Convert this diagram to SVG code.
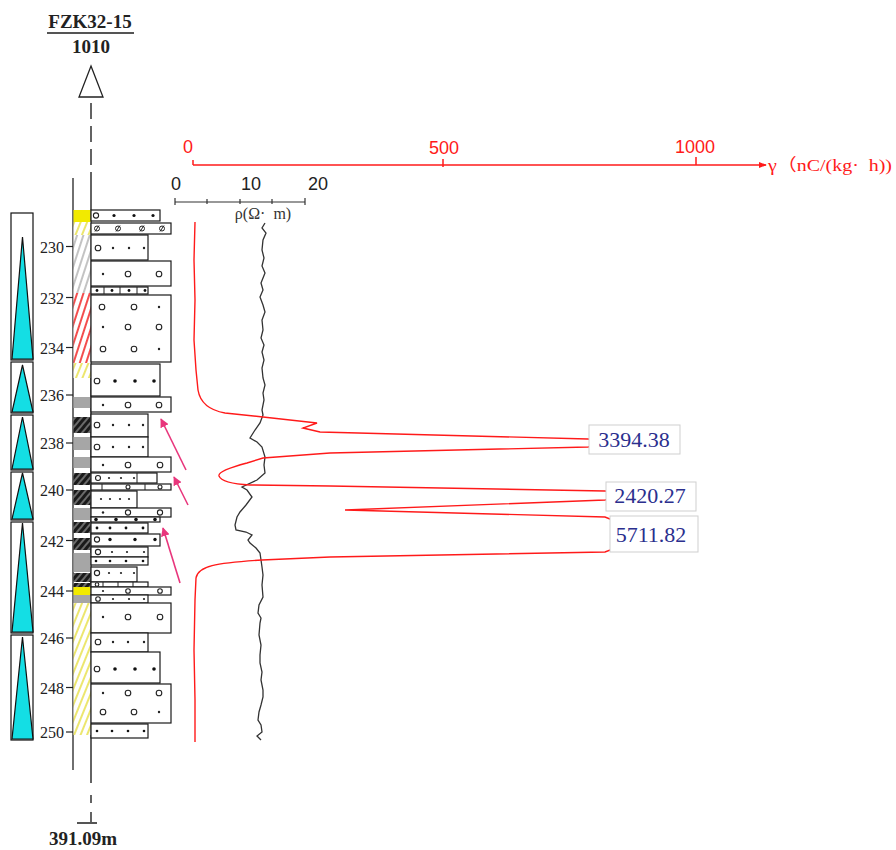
<svg xmlns="http://www.w3.org/2000/svg" width="896" height="850" viewBox="0 0 896 850">
<defs>
<style>
.ser{font-family:"Liberation Serif","Times New Roman",serif}
.san{font-family:"Liberation Sans",Arial,sans-serif}
.hd{font-size:19px;font-weight:bold;fill:#222}
.dep{font-size:17px;fill:#222}
.ax{stroke:#333;stroke-width:1.2;fill:none}
.lr{fill:#fff;stroke:#1a1a1a;stroke-width:1.2}
.oc{fill:#fff;stroke:#222;stroke-width:1.1}
.dt{fill:#222}
.fd{fill:#111}
.tri{fill:#14DEE4;stroke:#111;stroke-width:1.2}
.seg{fill:#fff;stroke:#111;stroke-width:1.2}
.pk{fill:#fff;stroke:#cfcfcf;stroke-width:1}
.pkt{font-size:22px;fill:#2B2F8E}
.red{stroke:#FF1A1A;stroke-width:1.4;fill:none}
.res{stroke:#333;stroke-width:1.3;fill:none}
.arw{stroke:#E8367C;stroke-width:1.6;fill:none}
</style>
<pattern id="hy" patternUnits="userSpaceOnUse" width="6" height="10" patternTransform="rotate(22)"><rect width="6" height="10" fill="#fff"/><line x1="2" y1="0" x2="2" y2="10" stroke="#E8E04A" stroke-width="1.6"/></pattern>
<pattern id="hg" patternUnits="userSpaceOnUse" width="6" height="10" patternTransform="rotate(18)"><rect width="6" height="10" fill="#fff"/><line x1="2" y1="0" x2="2" y2="10" stroke="#AAAAAA" stroke-width="1.4"/></pattern>
<pattern id="hr" patternUnits="userSpaceOnUse" width="6" height="10" patternTransform="rotate(18)"><rect width="6" height="10" fill="#fff"/><line x1="2" y1="0" x2="2" y2="10" stroke="#F02020" stroke-width="1.6"/></pattern>
<pattern id="hb" patternUnits="userSpaceOnUse" width="5" height="10" patternTransform="rotate(40)"><rect width="5" height="10" fill="#1a1a1a"/><line x1="1" y1="0" x2="1" y2="10" stroke="#bbb" stroke-width="1"/></pattern>
<marker id="pa" viewBox="0 0 10 10" refX="9" refY="5" markerWidth="9" markerHeight="9" markerUnits="userSpaceOnUse" orient="auto"><path d="M0,0 L10,5 L0,10 Z" fill="#E8367C"/></marker>
<marker id="ra" viewBox="0 0 10 10" refX="9" refY="5" markerWidth="8" markerHeight="8" markerUnits="userSpaceOnUse" orient="auto"><path d="M0,1 L10,5 L0,9 Z" fill="#FF1A1A"/></marker>
</defs>
<rect width="896" height="850" fill="#fff"/>

<g id="header">
<text class="ser hd" x="90" y="28" text-anchor="middle">FZK32-15</text>
<line x1="47" y1="33" x2="134" y2="33" stroke="#555" stroke-width="2"/>
<text class="ser hd" x="91" y="53" text-anchor="middle">1010</text>
<path d="M91,66 L103,97 L79,97 Z" fill="#fff" stroke="#222" stroke-width="1.3"/>
</g>

<g id="well-axis">
<line x1="91" y1="103" x2="91" y2="178" stroke="#222" stroke-width="1.4" stroke-dasharray="16,7"/>
<line x1="91" y1="178" x2="91" y2="783" stroke="#222" stroke-width="1.4"/>
<line x1="91" y1="795" x2="91" y2="803" stroke="#222" stroke-width="1.4"/>
<line x1="91" y1="812" x2="91" y2="823" stroke="#222" stroke-width="1.4"/>
<line x1="77" y1="823" x2="97" y2="823" stroke="#555" stroke-width="2"/>
<line x1="73" y1="178" x2="73" y2="770" stroke="#222" stroke-width="1.3"/>
<text class="ser hd" x="83" y="845" text-anchor="middle">391.09m</text>
</g>

<g id="depth-scale">
<g stroke="#222" stroke-width="1.2">
<line x1="66" y1="246.5" x2="73" y2="246.5"/><line x1="66" y1="297.5" x2="73" y2="297.5"/><line x1="66" y1="347.5" x2="73" y2="347.5"/><line x1="66" y1="395" x2="73" y2="395"/><line x1="66" y1="443" x2="73" y2="443"/><line x1="66" y1="490" x2="73" y2="490"/><line x1="66" y1="540.5" x2="73" y2="540.5"/><line x1="66" y1="591" x2="73" y2="591"/><line x1="66" y1="638" x2="73" y2="638"/><line x1="66" y1="687.5" x2="73" y2="687.5"/><line x1="66" y1="732" x2="73" y2="732"/>
</g>
<g class="ser dep" text-anchor="end">
<text x="64" y="252.5" textLength="24" lengthAdjust="spacingAndGlyphs">230</text>
<text x="64" y="303.5" textLength="24" lengthAdjust="spacingAndGlyphs">232</text>
<text x="64" y="353.5" textLength="24" lengthAdjust="spacingAndGlyphs">234</text>
<text x="64" y="401" textLength="24" lengthAdjust="spacingAndGlyphs">236</text>
<text x="64" y="449" textLength="24" lengthAdjust="spacingAndGlyphs">238</text>
<text x="64" y="496" textLength="24" lengthAdjust="spacingAndGlyphs">240</text>
<text x="64" y="546.5" textLength="24" lengthAdjust="spacingAndGlyphs">242</text>
<text x="64" y="597" textLength="24" lengthAdjust="spacingAndGlyphs">244</text>
<text x="64" y="644" textLength="24" lengthAdjust="spacingAndGlyphs">246</text>
<text x="64" y="693.5" textLength="24" lengthAdjust="spacingAndGlyphs">248</text>
<text x="64" y="738" textLength="24" lengthAdjust="spacingAndGlyphs">250</text>
</g>
</g>

<g id="cycles">
<rect class="seg" x="11" y="213" width="22" height="147"/>
<rect class="seg" x="11" y="362" width="22" height="51"/>
<rect class="seg" x="11" y="415" width="22" height="55"/>
<rect class="seg" x="11" y="472" width="22" height="48"/>
<rect class="seg" x="11" y="522" width="22" height="111"/>
<rect class="seg" x="11" y="635" width="22" height="105"/>
<path class="tri" d="M22.5,237 L33,359 L12,359 Z"/>
<path class="tri" d="M22.5,365 L33,412 L12,412 Z"/>
<path class="tri" d="M22.5,417 L33,469 L12,469 Z"/>
<path class="tri" d="M22.5,473 L33,519 L12,519 Z"/>
<path class="tri" d="M22.5,523 L33,632 L12,632 Z"/>
<path class="tri" d="M22.5,637 L33,739 L12,739 Z"/>
</g>

<g id="color-strip">
<rect x="73.5" y="210" width="17" height="12" fill="#F2EA00"/>
<rect x="73.5" y="222" width="17" height="13" fill="url(#hy)"/>
<rect x="73.5" y="235" width="17" height="58" fill="url(#hg)"/>
<rect x="73.5" y="293" width="17" height="70" fill="url(#hr)"/>
<rect x="73.5" y="363" width="17" height="15" fill="url(#hy)"/>
<rect x="73.5" y="397" width="17" height="11" fill="#A6A6A6"/>
<rect x="73.5" y="417" width="17" height="16" fill="url(#hb)"/>
<rect x="73.5" y="437" width="17" height="13" fill="#A6A6A6"/>
<rect x="73.5" y="457" width="17" height="11" fill="#A6A6A6"/>
<rect x="73.5" y="473" width="17" height="12" fill="url(#hb)"/>
<rect x="73.5" y="490" width="17" height="15" fill="url(#hb)"/>
<rect x="73.5" y="508" width="17" height="12" fill="#A6A6A6"/>
<rect x="73.5" y="522" width="17" height="11" fill="url(#hb)"/>
<rect x="73.5" y="538" width="17" height="12" fill="url(#hb)"/>
<rect x="73.5" y="553" width="17" height="19" fill="#A6A6A6"/>
<rect x="73.5" y="573" width="17" height="9" fill="url(#hb)"/>
<rect x="73.5" y="583" width="17" height="4" fill="url(#hb)"/>
<rect x="73.5" y="587" width="17" height="8" fill="#F2EA00"/>
<rect x="73.5" y="595" width="17" height="8" fill="#A6A6A6"/>
<rect x="73.5" y="603" width="17" height="132" fill="url(#hy)"/>
</g>

<g id="lithology">
<rect class="lr" x="91" y="210" width="69" height="11"/>
<circle class="oc" cx="96" cy="215.5" r="2.6"/><circle class="fd" cx="114" cy="215.5" r="1.6"/><circle class="fd" cx="134" cy="215.5" r="1.6"/><circle class="fd" cx="153" cy="215.5" r="1.6"/>
<rect class="lr" x="91" y="223" width="80" height="11"/>
<g stroke="#222" stroke-width="1" fill="none"><circle cx="97" cy="228.5" r="2.5"/><line x1="95" y1="231.5" x2="99" y2="225.5"/><circle cx="118" cy="228.5" r="2.5"/><line x1="116" y1="231.5" x2="120" y2="225.5"/><circle cx="142" cy="228.5" r="2.5"/><line x1="140" y1="231.5" x2="144" y2="225.5"/><circle cx="162" cy="228.5" r="2.5"/><line x1="160" y1="231.5" x2="164" y2="225.5"/></g>
<rect class="lr" x="91" y="235" width="57" height="25"/>
<circle class="oc" cx="98" cy="248" r="2.8"/><circle class="dt" cx="113" cy="248" r="1.2"/><circle class="dt" cx="129" cy="248" r="1.2"/><circle class="dt" cx="144" cy="248" r="1.2"/>
<rect class="lr" x="91" y="261" width="80" height="25"/>
<circle class="dt" cx="103" cy="274" r="1.2"/><circle class="oc" cx="128" cy="274" r="2.8"/><circle class="oc" cx="159" cy="274" r="2.8"/>
<rect class="lr" x="91" y="287" width="57" height="7"/>
<g stroke="#222" stroke-width="1"><line x1="104" y1="287" x2="104" y2="294"/><line x1="120" y1="287" x2="120" y2="294"/><line x1="137" y1="287" x2="137" y2="294"/></g>
<circle class="fd" cx="97" cy="290.5" r="1.4"/><circle class="fd" cx="112" cy="290.5" r="1.4"/><circle class="fd" cx="129" cy="290.5" r="1.4"/><circle class="fd" cx="145" cy="290.5" r="1.4"/>
<rect class="lr" x="91" y="295" width="80" height="67"/>
<circle class="oc" cx="102" cy="307" r="2.8"/><circle class="oc" cx="134" cy="307" r="2.8"/><circle class="dt" cx="159" cy="307" r="1.2"/>
<circle class="dt" cx="103" cy="327" r="1.2"/><circle class="oc" cx="128" cy="327" r="2.8"/><circle class="oc" cx="159" cy="327" r="2.8"/>
<circle class="oc" cx="103" cy="349" r="2.8"/><circle class="oc" cx="134" cy="349" r="2.8"/><circle class="dt" cx="159" cy="349" r="1.2"/>
<rect class="lr" x="91" y="364" width="69" height="32"/>
<circle class="oc" cx="97" cy="381" r="2.8"/><circle class="fd" cx="115" cy="381" r="1.8"/><circle class="fd" cx="135" cy="381" r="1.8"/><circle class="fd" cx="154" cy="381" r="1.8"/>
<rect class="lr" x="91" y="397" width="80" height="15"/>
<circle class="dt" cx="103" cy="405" r="1.2"/><circle class="oc" cx="128" cy="405" r="2.8"/><circle class="oc" cx="159" cy="405" r="2.8"/>
<rect class="lr" x="91" y="414" width="57" height="23"/>
<circle class="oc" cx="97" cy="425" r="2.8"/><circle class="dt" cx="113" cy="425" r="1.2"/><circle class="dt" cx="129" cy="425" r="1.2"/><circle class="dt" cx="143" cy="425" r="1.2"/>
<rect class="lr" x="91" y="437" width="57" height="20"/>
<circle class="oc" cx="97" cy="447" r="2.8"/><circle class="dt" cx="113" cy="447" r="1.2"/><circle class="dt" cx="129" cy="447" r="1.2"/><circle class="dt" cx="143" cy="447" r="1.2"/>
<rect class="lr" x="91" y="457" width="80" height="15"/>
<circle class="dt" cx="103" cy="465" r="1.2"/><circle class="oc" cx="128" cy="465" r="2.8"/><circle class="oc" cx="160" cy="465" r="2.8"/>
<rect class="lr" x="91" y="473" width="66" height="10"/>
<line x1="137" y1="473" x2="137" y2="483" stroke="#222" stroke-width="1"/>
<circle class="oc" cx="98" cy="478" r="2.5"/><circle class="dt" cx="109" cy="478" r="1.1"/><circle class="dt" cx="121" cy="478" r="1.1"/><circle class="dt" cx="134" cy="478" r="1.1"/>
<rect class="lr" x="91" y="484" width="80" height="6"/>
<g stroke="#222" stroke-width="1"><line x1="102" y1="484" x2="102" y2="490"/><line x1="145" y1="484" x2="145" y2="490"/></g>
<circle class="oc" cx="128" cy="487" r="2"/><circle class="oc" cx="160" cy="487" r="2"/>
<rect class="lr" x="91" y="491" width="46" height="17"/>
<circle class="dt" cx="101" cy="499" r="1.1"/><circle class="dt" cx="110" cy="499" r="1.1"/><circle class="dt" cx="120" cy="499" r="1.1"/><circle class="dt" cx="129" cy="499" r="1.1"/>
<rect class="lr" x="91" y="508" width="80" height="9"/>
<circle class="dt" cx="103" cy="512.5" r="1.2"/><circle class="oc" cx="128" cy="512.5" r="2.6"/><circle class="oc" cx="160" cy="512.5" r="2.6"/>
<rect class="lr" x="91" y="517" width="69" height="5"/>
<circle class="fd" cx="96" cy="519.5" r="1.8"/><circle class="fd" cx="116" cy="519.5" r="1.8"/><circle class="fd" cx="136" cy="519.5" r="1.8"/><circle class="fd" cx="155" cy="519.5" r="1.8"/>
<rect class="lr" x="91" y="523" width="57" height="10"/>
<circle class="fd" cx="97" cy="528" r="1.4"/><circle class="fd" cx="110" cy="528" r="1.4"/><circle class="fd" cx="126" cy="528" r="1.4"/><circle class="fd" cx="143" cy="528" r="1.4"/>
<rect class="lr" x="91" y="534" width="69" height="12"/>
<circle class="oc" cx="97" cy="539.5" r="2.6"/><circle class="fd" cx="110" cy="539.5" r="1.7"/><circle class="fd" cx="135" cy="539.5" r="1.7"/><circle class="fd" cx="155" cy="539.5" r="1.7"/>
<rect class="lr" x="91" y="547" width="57" height="10"/>
<circle class="oc" cx="98" cy="552" r="2.6"/><circle class="dt" cx="112" cy="552" r="1.1"/><circle class="dt" cx="127" cy="552" r="1.1"/><circle class="dt" cx="144" cy="552" r="1.1"/>
<rect class="lr" x="91" y="557" width="57" height="8"/>
<circle class="fd" cx="96" cy="561" r="1.3"/><circle class="fd" cx="110" cy="561" r="1.3"/><circle class="fd" cx="126" cy="561" r="1.3"/><circle class="fd" cx="143" cy="561" r="1.3"/>
<rect class="lr" x="91" y="567" width="46" height="15"/>
<circle class="oc" cx="97" cy="573" r="2.6"/><circle class="dt" cx="109" cy="573" r="1.1"/><circle class="dt" cx="121" cy="573" r="1.1"/><circle class="dt" cx="134" cy="573" r="1.1"/>
<rect class="lr" x="91" y="582" width="57" height="5"/>
<g stroke="#222" stroke-width="1"><line x1="103" y1="582" x2="103" y2="587"/><line x1="118" y1="582" x2="118" y2="587"/><line x1="133" y1="582" x2="133" y2="587"/></g>
<circle class="oc" cx="97" cy="584.5" r="1.8"/>
<rect class="lr" x="91" y="587" width="80" height="8"/>
<circle class="dt" cx="103" cy="591" r="1.1"/><circle class="oc" cx="128" cy="591" r="2.3"/><circle class="oc" cx="160" cy="591" r="2.3"/>
<rect class="lr" x="91" y="595" width="57" height="8"/>
<circle class="oc" cx="98" cy="599" r="2.3"/><circle class="dt" cx="113" cy="599" r="1.1"/><circle class="dt" cx="129" cy="599" r="1.1"/><circle class="dt" cx="144" cy="599" r="1.1"/>
<rect class="lr" x="91" y="603" width="80" height="30"/>
<circle class="dt" cx="103" cy="617" r="1.2"/><circle class="oc" cx="128" cy="617" r="2.8"/><circle class="oc" cx="160" cy="617" r="2.8"/>
<rect class="lr" x="91" y="633" width="57" height="19"/>
<circle class="oc" cx="98" cy="642" r="2.8"/><circle class="dt" cx="113" cy="642" r="1.2"/><circle class="dt" cx="128" cy="642" r="1.2"/><circle class="dt" cx="144" cy="642" r="1.2"/>
<rect class="lr" x="91" y="652" width="69" height="31"/>
<circle class="oc" cx="97" cy="669" r="2.8"/><circle class="fd" cx="115" cy="669" r="1.8"/><circle class="fd" cx="135" cy="669" r="1.8"/><circle class="fd" cx="154" cy="669" r="1.8"/>
<rect class="lr" x="91" y="684" width="80" height="39"/>
<circle class="dt" cx="103" cy="693" r="1.2"/><circle class="oc" cx="128" cy="693" r="2.8"/><circle class="oc" cx="159" cy="693" r="2.8"/>
<circle class="oc" cx="103" cy="712" r="2.8"/><circle class="oc" cx="134" cy="712" r="2.8"/><circle class="dt" cx="159" cy="712" r="1.2"/>
<rect class="lr" x="91" y="724" width="57" height="14"/>
<circle class="fd" cx="97" cy="731" r="1.3"/><circle class="fd" cx="112" cy="731" r="1.3"/><circle class="fd" cx="128" cy="731" r="1.3"/><circle class="fd" cx="144" cy="731" r="1.3"/>
</g>

<g id="gamma-axis">
<line x1="193" y1="165" x2="766" y2="165" stroke="#FF1A1A" stroke-width="1.5" marker-end="url(#ra)"/>
<line x1="193" y1="160" x2="193" y2="165" stroke="#FF1A1A" stroke-width="1.5"/>
<line x1="443" y1="159" x2="443" y2="167" stroke="#FF1A1A" stroke-width="1.5"/>
<line x1="696" y1="157" x2="696" y2="165" stroke="#FF1A1A" stroke-width="1.5"/>
<g class="san" font-size="18" fill="#FF1A1A" text-anchor="middle">
<text x="188" y="153">0</text>
<text x="444" y="154">500</text>
<text x="695" y="153">1000</text>
</g>
<text x="768" y="171" font-family="Liberation Serif,'Noto Sans CJK SC',serif" font-size="17" fill="#FF1A1A" textLength="124" lengthAdjust="spacingAndGlyphs">γ（nC/(kg·&#160;&#160;h))</text>
</g>

<g id="res-axis">
<line class="ax" x1="175" y1="202" x2="305" y2="202"/>
<g stroke="#333" stroke-width="1.2"><line x1="175" y1="198" x2="175" y2="205"/><line x1="207" y1="199" x2="207" y2="204"/><line x1="240" y1="199" x2="240" y2="204"/><line x1="272" y1="199" x2="272" y2="204"/><line x1="305" y1="198" x2="305" y2="205"/></g>
<g class="san" font-size="18" fill="#222" text-anchor="middle">
<text x="176" y="190">0</text>
<text x="251" y="190">10</text>
<text x="318" y="190">20</text>
</g>
<text class="ser" x="263" y="219" font-size="16" fill="#333" text-anchor="middle">ρ(Ω·&#160;&#160;m)</text>
</g>

<g id="connectors">
<path class="res" d="M265,223 L262,228 L266,233 L263,240 L262,250 L264,258 L262,266 L265,273 L261,283 L263,290 L260,297 L263,305 L265,312 L262,320 L263,330 L261,338 L264,345 L262,352 L264,360 L262,368 L263,378 L265,385 L263,393 L264,400 L262,410 L263,415 L260,423 L255,430 L250,438 L257,442 L262,447 L265,457 L264,465 L265,473 L257,480 L242,487 L247,490 L252,497 L246,505 L240,512 L237,517 L235,525 L236,530 L246,532 L252,535 L248,540 L250,543 L256,548 L260,553 L261,560 L262,567 L263,575 L262,585 L263,597 L259,605 L258,613 L261,618 L260,623 L259,635 L261,645 L260,655 L260,663 L262,672 L261,680 L263,690 L263,697 L261,705 L259,712 L258,720 L261,725 L262,732 L257,736 L261,740"/>
<path class="red" d="M195,222 L194,260 L195,300 L194,340 L196,370 L198,390 C200,402 208,410 225,413 L263,417 L317,423 L303,428 L320,432 L588,439 L625,443 L588,447 L330,453 L263,458 L247,463 C228,468 218,472 219,476 C221,481 232,484 250,485 L330,486 L605,491 L640,495 L605,500 L345,510 L605,517 L650,535 L605,552 L330,557 L262,560 C215,563 198,566 196,578 L195,600 L194,650 L195,700 L195,742"/>
<line class="arw" x1="186" y1="470" x2="161" y2="419" marker-end="url(#pa)"/>
<line class="arw" x1="188" y1="505" x2="174" y2="477" marker-end="url(#pa)"/>
<line class="arw" x1="180" y1="583" x2="163" y2="528" marker-end="url(#pa)"/>
</g>

<g id="peak-3394">
<rect class="pk" x="589" y="425" width="91" height="29"/>
<text class="ser pkt" x="634" y="447" text-anchor="middle">3394.38</text>
</g>
<g id="peak-2420">
<rect class="pk" x="606" y="482" width="90" height="29"/>
<text class="ser pkt" x="650" y="503" text-anchor="middle">2420.27</text>
</g>
<g id="peak-5711">
<rect class="pk" x="610" y="516" width="88" height="36"/>
<text class="ser pkt" x="651" y="542" text-anchor="middle">5711.82</text>
</g>
</svg>
